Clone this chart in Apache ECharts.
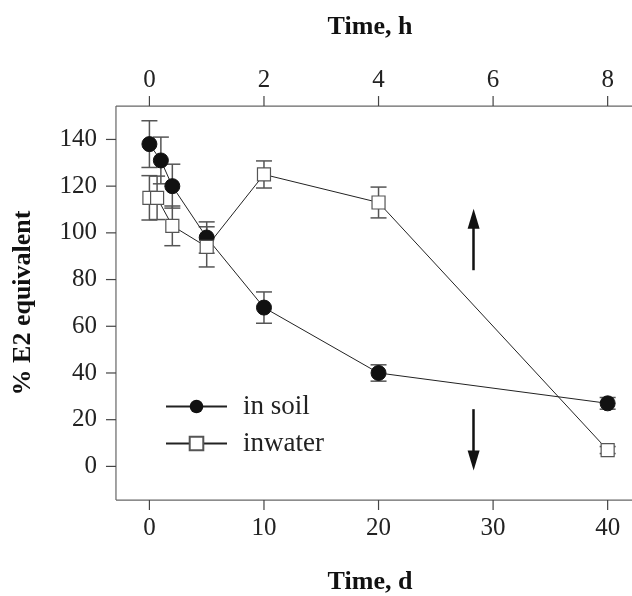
<!DOCTYPE html>
<html>
<head>
<meta charset="utf-8">
<script src="https://cdn.jsdelivr.net/npm/echarts@6/dist/echarts.min.js"></script>
<style>
  html, body { margin: 0; padding: 0; background: #fff; }
  #chart { width: 632px; height: 596px; }
</style>
</head>
<body>
<div id="chart"></div>
<script>
// values
const soilDays = [0, 1, 2, 5, 10, 20, 40]
const soilMean = [138, 131, 120, 98, 68, 40, 27]
const soilErr = [10, 10, 9.4, 6.7, 6.7, 3.5, 2.5]

const waterDays = [0, 0.67, 2, 5, 10, 20, 40]
const waterMean = [115, 115, 103, 94, 125, 113, 7]
const waterErr = [9.5, 9.3, 8.5, 8.6, 5.8, 6.6, 1.5]

const dayTicks = [0, 10, 20, 30, 40]
const hourLabels = ['0', '2', '4', '6', '8']
const yTicks = [0, 20, 40, 60, 80, 100, 120, 140]

// arrows: x position, [tail, end] for up and down
const arrowX = 28.3
const arrowUp = [84, 106]
const arrowDown = [24.5, 2.5]

const serif = "'Liberation Serif', 'DejaVu Serif', serif"
const ink = '#222'
const gray = '#555'

// axis range is a bit wider than the plot box so the outside ticks sit in the grid
const xMin = -3.79
const xMax = 42.3
const yMin = -18.67
const yMax = 158.6
// plot box edges
const boxX = -2.92
const boxLo = -14.4
const boxHi = 154.3

const pairs = (xs, ys) => xs.map((x, i) => [x, ys[i]])
const bars = (xs, ys, es) => xs.map((x, i) => [x, ys[i] - es[i], ys[i] + es[i]])

const errorBar = (name, data) => ({
  name: name + ' err',
  type: 'custom',
  z: 1,
  silent: true,
  data: data,
  renderItem: (params, api) => {
    const x = api.value(0)
    const lo = api.coord([x, api.value(1)])
    const hi = api.coord([x, api.value(2)])
    const w = 8
    const st = { stroke: gray, lineWidth: 1.5 }
    return {
      type: 'group',
      children: [
        { type: 'line', shape: { x1: lo[0], y1: lo[1], x2: hi[0], y2: hi[1] }, style: st },
        { type: 'line', shape: { x1: lo[0] - w, y1: lo[1], x2: lo[0] + w, y2: lo[1] }, style: st },
        { type: 'line', shape: { x1: hi[0] - w, y1: hi[1], x2: hi[0] + w, y2: hi[1] }, style: st },
      ],
    }
  },
})

const boxSt = { stroke: '#666', lineWidth: 1.2 }
const tickSt = { stroke: '#444', lineWidth: 1.2 }

const frame = {
  name: 'box',
  type: 'custom',
  silent: true,
  z: 0,
  data: [[boxX, boxLo]],
  renderItem: (params, api) => {
    const bl = api.coord([boxX, boxLo])
    const tl = api.coord([boxX, boxHi])
    const br = api.coord([xMax, boxLo])
    const tr = api.coord([xMax, boxHi])
    return {
      type: 'group',
      children: [
        { type: 'line', shape: { x1: bl[0], y1: bl[1], x2: tl[0], y2: tl[1] }, style: boxSt },
        { type: 'line', shape: { x1: bl[0], y1: bl[1], x2: br[0], y2: br[1] }, style: boxSt },
        { type: 'line', shape: { x1: tl[0], y1: tl[1], x2: tr[0], y2: tr[1] }, style: boxSt },
      ],
    }
  },
}

const yTickMarks = {
  name: 'y ticks',
  type: 'custom',
  silent: true,
  data: yTicks.map((v) => [boxX, v]),
  renderItem: (params, api) => {
    const p = api.coord([api.value(0), api.value(1)])
    return { type: 'line', shape: { x1: p[0] - 10, y1: p[1], x2: p[0], y2: p[1] }, style: tickSt }
  },
}

const xTickMarks = {
  name: 'x ticks',
  type: 'custom',
  silent: true,
  data: dayTicks.map((v) => [v, boxLo]),
  renderItem: (params, api) => {
    const b = api.coord([api.value(0), boxLo])
    const t = api.coord([api.value(0), boxHi])
    return {
      type: 'group',
      children: [
        { type: 'line', shape: { x1: b[0], y1: b[1], x2: b[0], y2: b[1] + 10 }, style: tickSt },
        { type: 'line', shape: { x1: t[0], y1: t[1] - 10, x2: t[0], y2: t[1] }, style: tickSt },
      ],
    }
  },
}

const hidden = () => ({ show: false, onZero: false })
const titleFont = () => ({ fontFamily: serif, fontSize: 26, fontWeight: 'bold', color: '#111' })

const chart = echarts.init(document.getElementById('chart'))
chart.setOption({
  animation: false,
  grid: { left: 106, right: -2, top: 96, bottom: 86, outerBoundsMode: 'none' },
  legend: {
    data: ['in soil', 'inwater'],
    orient: 'vertical',
    left: 160, top: 388,
    itemWidth: 61, itemHeight: 17, itemGap: 10,
    textStyle: { fontFamily: serif, fontSize: 27, color: ink, lineHeight: 26, padding: [0, 0, 0, 11] },
  },
  xAxis: [
    {
      type: 'value', position: 'bottom', min: xMin, max: xMax,
      name: 'Time, d', nameLocation: 'middle', nameGap: 59, nameTextStyle: titleFont(),
      axisLine: hidden(),
      axisTick: { show: false },
      splitLine: { show: false },
      axisLabel: { customValues: dayTicks, fontFamily: serif, fontSize: 25, color: ink, margin: 6 },
    },
    {
      type: 'value', position: 'top', min: xMin, max: xMax,
      name: 'Time, h', nameLocation: 'middle', nameGap: 56, nameTextStyle: titleFont(),
      axisLine: hidden(),
      axisTick: { show: false },
      splitLine: { show: false },
      axisLabel: {
        customValues: dayTicks, fontFamily: serif, fontSize: 25, color: ink, margin: 3,
        formatter: (v) => {
          const i = dayTicks.indexOf(v)
          return i < 0 ? '' : hourLabels[i]
        },
      },
    },
  ],
  yAxis: {
    type: 'value', min: yMin, max: yMax,
    name: '% E2 equivalent', nameLocation: 'middle', nameGap: 70, nameRotate: 90, nameTextStyle: titleFont(),
    axisLine: hidden(),
    axisTick: { show: false },
    splitLine: { show: false },
    axisLabel: { customValues: yTicks, fontFamily: serif, fontSize: 25, color: ink, margin: 9 },
  },
  series: [
    frame,
    yTickMarks,
    xTickMarks,
    errorBar('in soil', bars(soilDays, soilMean, soilErr)),
    errorBar('inwater', bars(waterDays, waterMean, waterErr)),
    {
      name: 'in soil',
      type: 'line',
      z: 3,
      data: pairs(soilDays, soilMean),
      symbol: 'circle',
      symbolSize: 15,
      lineStyle: { color: ink, width: 1 },
      itemStyle: { color: '#111', borderColor: '#111' },
    },
    {
      name: 'inwater',
      type: 'line',
      z: 3,
      data: pairs(waterDays, waterMean),
      symbol: 'rect',
      symbolSize: 13,
      lineStyle: { color: ink, width: 1 },
      itemStyle: { color: '#fff', borderColor: gray, borderWidth: 1.2 },
    },
    {
      name: 'arrows',
      type: 'line',
      data: [],
      markLine: {
        silent: true,
        symbol: ['none', 'triangle'],
        symbolSize: [12, 20],
        label: { show: false },
        lineStyle: { color: '#111', width: 2.5, type: 'solid' },
        data: [
          [{ coord: [arrowX, arrowUp[0]] }, { coord: [arrowX, arrowUp[1]] }],
          [{ coord: [arrowX, arrowDown[0]] }, { coord: [arrowX, arrowDown[1]] }],
        ],
      },
    },
  ],
})
</script>
</body>
</html>
